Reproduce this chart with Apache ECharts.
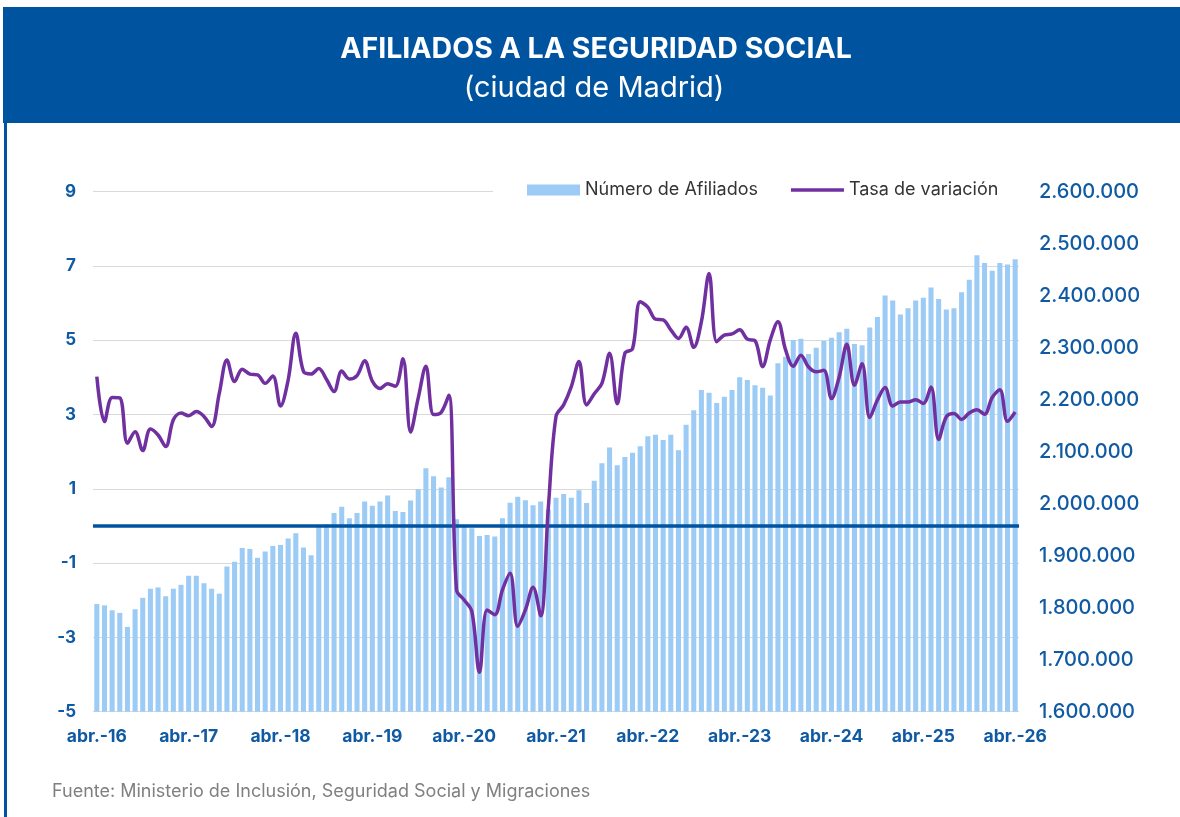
<!DOCTYPE html>
<html>
<head>
<meta charset="utf-8">
<script src="https://cdn.jsdelivr.net/npm/echarts@6/dist/echarts.min.js"></script>
<style>
  html, body { margin: 0; padding: 0; background: #fff; }
  #chart { width: 1180px; height: 817px; }
</style>
</head>
<body>
<div id="chart"></div>
<script>
// etiquetas de meses (abr. 2016 - abr. 2026)
var meses = ['ene.', 'feb.', 'mar.', 'abr.', 'may.', 'jun.', 'jul.', 'ago.', 'sept.', 'oct.', 'nov.', 'dic.'];
var categorias = [];
for (var a = 2016; a <= 2026; a++) {
  for (var m = 0; m < 12; m++) {
    if (a === 2016 && m < 3) continue;
    if (a === 2026 && m > 3) break;
    categorias.push(meses[m] + '-' + String(a).slice(2));
  }
}

// Número de Afiliados (eje derecho)
var afiliados = [
  1807000, 1804500, 1795000, 1790000, 1763000, 1797000, 1819000, 1836500, 1839000, 1822000,
  1836500, 1844000, 1861500, 1861500, 1847000, 1836500, 1827000, 1879000, 1888500, 1915000,
  1913000, 1896000, 1908000, 1918500, 1920500, 1933000, 1943000, 1916000, 1901000, 1958000,
  1960000, 1982000, 1994000, 1972000, 1982000, 2004000, 1996000, 2004000, 2016000, 1986000,
  1984000, 2006000, 2028000, 2068000, 2053000, 2031000, 2051000, 1970000, 1957000, 1953000,
  1938000, 1940000, 1937000, 1972000, 2002000, 2013500, 2006500, 1997000, 2004000, 1989000,
  2011500, 2018500, 2011500, 2026000, 2001500, 2044000, 2078000, 2108000, 2074000, 2090000,
  2098000, 2110500, 2129500, 2132700, 2122400, 2132700, 2102600, 2152000, 2179500, 2218600,
  2213500, 2193600, 2205800, 2218600, 2243000, 2238000, 2228000, 2223000, 2208300, 2270000,
  2282700, 2314700, 2317300, 2287800, 2300000, 2312800, 2319200, 2329500, 2336500, 2307000,
  2304500, 2339000, 2359000, 2400600, 2391000, 2364000, 2376000, 2391000, 2396000, 2416000,
  2393600, 2373700, 2376000, 2406400, 2430800, 2477600, 2462800, 2448000, 2462800, 2460000,
  2470000
];

// Tasa de variación (eje izquierdo)
var tasa = [
  4.02, 2.81, 3.46, 3.45, 2.23, 2.54, 2.03, 2.61, 2.45, 2.14,
  2.86, 3.04, 2.97, 3.08, 2.95, 2.68, 3.57, 4.47, 3.89, 4.22,
  4.09, 4.07, 3.84, 4.04, 3.23, 3.93, 5.19, 4.16, 4.09, 4.24,
  3.95, 3.62, 4.17, 3.96, 4.05, 4.45, 3.90, 3.70, 3.83, 3.76,
  4.50, 2.53, 3.45, 4.30, 3.00, 3.06, 3.52, -1.72, -1.99, -2.30,
  -3.94, -2.26, -2.39, -1.72, -1.27, -2.70, -2.26, -1.65, -2.42, 0.50,
  2.95, 3.26, 3.75, 4.43, 3.26, 3.56, 3.84, 4.65, 3.29, 4.65,
  4.77, 6.04, 5.89, 5.57, 5.55, 5.28, 5.05, 5.35, 4.81, 5.50,
  6.80, 4.96, 5.14, 5.17, 5.28, 5.03, 4.99, 4.29, 5.01, 5.50,
  4.74, 4.30, 4.60, 4.28, 4.15, 4.19, 3.43, 4.01, 4.89, 3.79,
  4.37, 2.92, 3.39, 3.73, 3.23, 3.34, 3.34, 3.40, 3.30, 3.74,
  2.33, 2.94, 3.03, 2.87, 3.04, 3.13, 3.01, 3.46, 3.67, 2.82,
  3.07
];

var azul = '#00549F';
var azulTexto = '#0F5AA3';
var fuente = 'Inter, "Noto Sans", sans-serif';

function miles(v) {
  return String(v).replace(/\B(?=(\d{3})+(?!\d))/g, '.');
}

var myChart = echarts.init(document.getElementById('chart'));

var option = {
  backgroundColor: '#fff',
  animation: false,
  textStyle: { fontFamily: fuente },
  graphic: [
    { type: 'rect', z: -1, shape: { x: 3, y: 7, width: 1177, height: 116 }, style: { fill: azul } },
    { type: 'line', z: -1, shape: { x1: 5.5, y1: 120, x2: 5.5, y2: 817 }, style: { stroke: azul, lineWidth: 3 } },
    { type: 'text', style: { x: 596, y: 49, text: 'AFILIADOS A LA SEGURIDAD SOCIAL', fill: '#fff',
        font: 'bold 28.5px ' + fuente, align: 'center', verticalAlign: 'middle' } },
    { type: 'text', style: { x: 594, y: 88, text: '(ciudad de Madrid)', fill: '#fff',
        font: '29px ' + fuente, align: 'center', verticalAlign: 'middle' } },
    { type: 'text', style: { x: 52, y: 792, text: 'Fuente: Ministerio de Inclusión, Seguridad Social y Migraciones',
        fill: '#808080', font: '18px ' + fuente, verticalAlign: 'middle' } }
  ],
  legend: {
    data: [
      { name: 'Número de Afiliados', icon: 'rect' },
      { name: 'Tasa de variación', icon: 'path://M0,0 L53,0 L53,3.5 L0,3.5 Z' }
    ],
    left: 493,
    top: 176,
    padding: [5, 24, 5, 34],
    backgroundColor: '#fff',
    itemWidth: 53,
    itemHeight: 11,
    itemGap: 33,
    textStyle: { fontSize: 18, color: '#333', fontFamily: fuente }
  },
  grid: { left: 93, right: 161, top: 191.7, bottom: 105.3, containLabel: false },
  xAxis: {
    type: 'category',
    data: categorias,
    axisLine: { lineStyle: { color: '#D9D9D9', width: 1 } },
    axisTick: { show: false },
    axisLabel: {
      interval: 11,
      color: azulTexto,
      fontWeight: 'bold',
      fontSize: 17.5,
      margin: 16,
      fontFamily: fuente
    }
  },
  yAxis: [
    {
      type: 'value',
      min: -5,
      max: 9,
      interval: 2,
      position: 'left',
      axisLine: { show: false },
      axisTick: { show: false },
      splitLine: { lineStyle: { color: '#D9D9D9', width: 1 } },
      axisLabel: { color: azulTexto, fontWeight: 'bold', fontSize: 17, margin: 17, fontFamily: fuente }
    },
    {
      type: 'value',
      min: 1600000,
      max: 2600000,
      interval: 100000,
      position: 'right',
      axisLine: { show: false },
      axisTick: { show: false },
      splitLine: { show: false },
      axisLabel: { color: azulTexto, fontWeight: 500, fontSize: 20, margin: 20, fontFamily: fuente,
        formatter: miles }
    }
  ],
  series: [
    {
      name: 'Número de Afiliados',
      type: 'bar',
      yAxisIndex: 1,
      data: afiliados,
      barWidth: '66%',
      itemStyle: { color: '#9CCBF5' },
      markLine: {
        silent: true,
        symbol: 'none',
        label: { show: false },
        lineStyle: { color: azul, width: 3.5, type: 'solid' },
        // posición del 0 del eje izquierdo expresada en el eje derecho
        data: [{ yAxis: 1600000 + (0 + 5) / 14 * 1000000 }]
      }
    },
    {
      name: 'Tasa de variación',
      type: 'line',
      yAxisIndex: 0,
      z: 5,
      data: tasa,
      smooth: 0.35,
      symbol: 'none',
      lineStyle: { color: '#7030A0', width: 3.5 },
      itemStyle: { color: '#7030A0' }
    }
  ]
};

myChart.setOption(option);
</script>
</body>
</html>
